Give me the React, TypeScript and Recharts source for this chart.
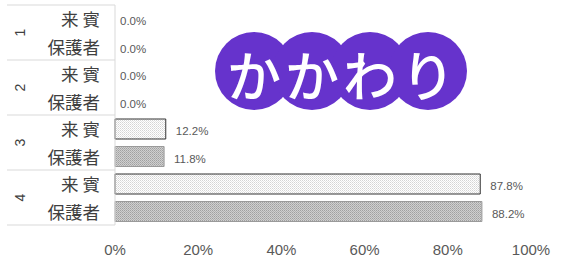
import React from 'react';
import { BarChart, Bar, XAxis, YAxis, Cell, LabelList } from 'recharts';

const groups = ['1', '2', '3', '4'];
const respondents = ['来賓', '保護者'];
const guestValues = [0.0, 0.0, 12.2, 87.8];
const parentValues = [0.0, 0.0, 11.8, 88.2];
const xTicks = [0, 20, 40, 60, 80, 100];
const titleChars = ['か', 'か', 'わ', 'り'];

const data = groups.flatMap((g, gi) => [
  { id: `${g}-0`, group: g, who: respondents[0], kind: 0, value: guestValues[gi] },
  { id: `${g}-1`, group: g, who: respondents[1], kind: 1, value: parentValues[gi] },
]);

const W = 566;
const H = 260;
const TOP = 5;
const BOTTOM = 35;
const BAND = (H - TOP - BOTTOM) / data.length;
const JP = '"Noto Sans CJK JP", sans-serif';
const NUM = '"Liberation Sans", Arial, sans-serif';

const CategoryTick = (props: any) => {
  const { y, index } = props;
  const row = data[index];
  const lineColor = '#d9d9d9';
  const els: any[] = [];
  els.push(
    <text key="t" x={row.kind === 0 ? 104 : 100} y={y} textAnchor="end" dominantBaseline="central" fontSize={17.5} fill="#404040" fontFamily={JP} letterSpacing={row.kind === 0 ? 4 : 0}>
      {row.who}
    </text>
  );
  if (row.kind === 0) {
    const top = y - BAND / 2;
    els.push(<line key="l" x1={7} x2={115} y1={top} y2={top} stroke={lineColor} strokeWidth={1} />);
    els.push(
      <text key="g" x={20} y={y + BAND / 2} transform={`rotate(-90 20 ${y + BAND / 2})`} textAnchor="middle" dominantBaseline="central" fontSize={14} fill="#404040" fontFamily={NUM}>
        {row.group}
      </text>
    );
  }
  if (index === data.length - 1) {
    const bot = y + BAND / 2;
    els.push(<line key="b" x1={7} x2={115} y1={bot} y2={bot} stroke={lineColor} strokeWidth={1} />);
  }
  return <g>{els}</g>;
};

const ValueLabel = (props: any) => {
  const { x, y, width, height, value } = props;
  const off = Number(value) > 0 ? 10 : 4;
  return (
    <text x={x + width + off} y={y + height / 2 + 2} dominantBaseline="central" fontSize={11.5} fill="#595959" fontFamily={NUM}>
      {Number(value).toFixed(1)}%
    </text>
  );
};

export default function App() {
  return (
    <div style={{ position: 'absolute', left: 0, top: 0, width: W, height: H, background: '#fff' }}>
      <BarChart
        width={W}
        height={H}
        data={data}
        layout="vertical"
        margin={{ top: TOP, right: 35, bottom: 0, left: 0 }}
        barSize={20}
      >
        <defs>
          <pattern id="patGuest" width="2" height="2" patternUnits="userSpaceOnUse">
            <rect width="2" height="2" fill="#ffffff" />
            <rect x="0" y="0" width="1" height="1" fill="#d4d4d4" />
            <rect x="1" y="1" width="1" height="1" fill="#e4e4e4" />
          </pattern>
          <pattern id="patParent" width="2" height="2" patternUnits="userSpaceOnUse">
            <rect width="2" height="2" fill="#cfcfcf" />
            <rect x="0" y="0" width="1" height="1" fill="#a0a0a0" />
            <rect x="1" y="1" width="1" height="1" fill="#b0b0b0" />
          </pattern>
        </defs>
        <XAxis
          type="number"
          domain={[0, 100]}
          ticks={xTicks}
          tickFormatter={(v: number) => `${v}%`}
          axisLine={false}
          tickLine={false}
          height={BOTTOM}
          tick={{ fontSize: 15, fill: '#595959', fontFamily: NUM }}
          tickMargin={13}
          interval={0}
        />
        <YAxis
          type="category"
          dataKey="id"
          width={115}
          axisLine={{ stroke: '#d9d9d9' }}
          tickLine={false}
          tick={<CategoryTick />}
          interval={0}
        />
        <Bar dataKey="value" isAnimationActive={false} minPointSize={1}>
          {data.map((d) => (
            <Cell
              key={d.id}
              fill={d.value > 0 ? (d.kind === 0 ? 'url(#patGuest)' : 'url(#patParent)') : 'none'}
              stroke={d.value > 0 ? (d.kind === 0 ? '#333333' : '#9a9a9a') : 'none'}
              strokeWidth={1}
            />
          ))}
          <LabelList dataKey="value" content={<ValueLabel />} />
        </Bar>
      </BarChart>
      <svg width={W} height={H} style={{ position: 'absolute', left: 0, top: 0, pointerEvents: 'none' }}>
        {titleChars.map((c, i) => (
          <circle key={`c${i}`} cx={254 + i * 58} cy={71} r={39} fill="#6633cc" />
        ))}
        {titleChars.map((c, i) => (
          <text key={`t${i}`} x={254 + i * 58} y={73} textAnchor="middle" dominantBaseline="central" fontSize={54} fontWeight={500} fill="#ffffff" fontFamily={JP}>
            {c}
          </text>
        ))}
      </svg>
    </div>
  );
}
